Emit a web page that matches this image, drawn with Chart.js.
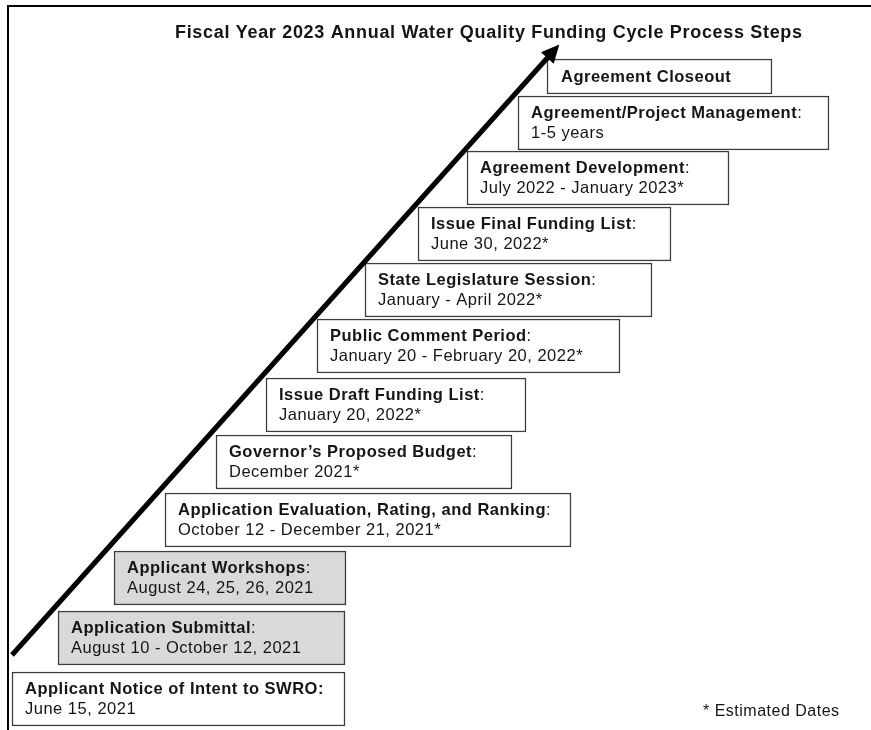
<!DOCTYPE html>
<html>
<head>
<meta charset="utf-8">
<title>FY2023 Funding Cycle Process Steps</title>
<script src="https://cdn.jsdelivr.net/npm/chart.js@4/dist/chart.umd.min.js"></script>
<style>
html, body { margin: 0; padding: 0; background: #fff; }
#wrap { position: relative; width: 871px; height: 730px; }
</style>
</head>
<body>
<div id="wrap"><canvas id="steps" width="871" height="730"></canvas></div>
<script>
var titleText = 'Fiscal Year 2023 Annual Water Quality Funding Cycle Process Steps';
var noteText = '* Estimated Dates';

// steps, first (bottom) to last (top)
var stepLabels = [
	'Applicant Notice of Intent to SWRO:',
	'Application Submittal',
	'Applicant Workshops',
	'Application Evaluation, Rating, and Ranking',
	'Governor\u2019s Proposed Budget',
	'Issue Draft Funding List',
	'Public Comment Period',
	'State Legislature Session',
	'Issue Final Funding List',
	'Agreement Development',
	'Agreement/Project Management',
	'Agreement Closeout'
];
var stepDates = [
	'June 15, 2021',
	'August 10 - October 12, 2021',
	'August 24, 25, 26, 2021',
	'October 12 - December 21, 2021*',
	'December 2021*',
	'January 20, 2022*',
	'January 20 - February 20, 2022*',
	'January - April 2022*',
	'June 30, 2022*',
	'July 2022 - January 2023*',
	'1-5 years',
	''
];
var shadedSteps = [1, 2]; // steps already done (grey boxes)

// box extents (hidden axes, 871 x 730 units)
var boxFrom = [12, 58, 114, 165, 216, 266, 317, 365, 418, 467, 518, 547];
var boxTo   = [345, 345, 346, 571, 512, 526, 620, 652, 671, 729, 829, 772];
var rowY    = [699, 638, 578, 520, 462, 405, 346, 290, 234, 178, 123, 76.5];

// the rising arrow: tail and shaft end
var arrowX = [12, 550];
var arrowY = [655, 55];

var FONT = "'Liberation Sans', Arial, sans-serif";
var INK = '#151515';
var SIZE = 16.5;

var twoLine = [], oneLine = [];
stepLabels.forEach(function(label, i){
	var pt = {x: [boxFrom[i], boxTo[i]], y: rowY[i], step: i};
	if (stepDates[i]) twoLine.push(pt); else oneLine.push(pt);
});
function fills(list){
	return list.map(function(p){ return shadedSteps.indexOf(p.step) >= 0 ? '#d9d9d9' : '#ffffff'; });
}

// frame, title and footnote
var decor = {
	id: 'decor',
	beforeDraw: function(chart){
		var ctx = chart.ctx;
		ctx.save();
		ctx.fillStyle = '#000';
		ctx.fillRect(7, 5, 864, 2);
		ctx.fillRect(7, 5, 2, 725);
		ctx.restore();
	},
	afterDraw: function(chart){
		var ctx = chart.ctx;
		ctx.save();
		ctx.fillStyle = INK;
		ctx.textBaseline = 'alphabetic';
		ctx.font = 'bold 18px ' + FONT;
		// spread letters so the title spans like the original
		var w = ctx.measureText(titleText).width;
		var sp = (627 - w) / (titleText.length - 1);
		ctx.letterSpacing = sp.toFixed(2) + 'px';
		ctx.fillText(titleText, 175, 38);
		ctx.letterSpacing = '0.5px';
		ctx.font = '16px ' + FONT;
		ctx.fillText(noteText, 703, 716);
		ctx.restore();
	}
};

// texts inside the boxes and the arrow head
var boxText = {
	id: 'boxText',
	afterDatasetsDraw: function(chart){
		var ctx = chart.ctx;
		ctx.save();
		ctx.fillStyle = INK;
		ctx.letterSpacing = '0.5px';
		chart.data.datasets.forEach(function(ds, d){
			var meta = chart.getDatasetMeta(d);
			if (ds.type === 'line'){
				var pts = meta.data;
				var a = pts[pts.length - 2], b = pts[pts.length - 1];
				var dx = b.x - a.x, dy = b.y - a.y, len = Math.sqrt(dx*dx + dy*dy);
				var ux = dx/len, uy = dy/len;
				ctx.beginPath();
				ctx.moveTo(b.x + ux*14, b.y + uy*14);
				ctx.lineTo(b.x - uy*8.5 - ux*4, b.y + ux*8.5 - uy*4);
				ctx.lineTo(b.x + uy*8.5 - ux*4, b.y - ux*8.5 - uy*4);
				ctx.closePath();
				ctx.fillStyle = '#000';
				ctx.fill();
				ctx.fillStyle = INK;
				return;
			}
			meta.data.forEach(function(bar, j){
				var p = bar.getProps(['x', 'y', 'base'], true);
				var i = ds.data[j].step;
				var left = Math.min(p.x, p.base) + 13;
				var label = stepLabels[i];
				var date = stepDates[i];
				ctx.font = 'bold ' + SIZE + 'px ' + FONT;
				if (!date){
					ctx.fillText(label, left + 1, p.y + 5.5);
					return;
				}
				ctx.fillText(label, left, p.y - 5);
				if (label.slice(-1) !== ':'){
					var lw = ctx.measureText(label).width;
					ctx.font = SIZE + 'px ' + FONT;
					ctx.fillText(':', left + lw, p.y - 5);
				}
				ctx.font = SIZE + 'px ' + FONT;
				ctx.fillText(date, left, p.y + 15);
			});
		});
		ctx.restore();
	}
};

new Chart(document.getElementById('steps'), {
	type: 'bar',
	data: {
		datasets: [
			{
				label: 'arrow',
				type: 'line',
				data: arrowX.map(function(x, i){ return {x: x, y: arrowY[i]}; }),
				borderColor: '#000',
				borderWidth: 5,
				pointRadius: 0,
				fill: false,
				order: 0
			},
			{
				label: 'steps',
				data: twoLine,
				backgroundColor: fills(twoLine),
				borderColor: '#3c3c3c',
				borderWidth: 1.5,
				borderSkipped: false,
				barThickness: 54,
				grouped: false,
				order: 1
			},
			{
				label: 'closeout',
				data: oneLine,
				backgroundColor: fills(oneLine),
				borderColor: '#3c3c3c',
				borderWidth: 1.5,
				borderSkipped: false,
				barThickness: 35,
				grouped: false,
				order: 1
			}
		]
	},
	options: {
		indexAxis: 'y',
		responsive: false,
		devicePixelRatio: 1,
		animation: false,
		events: [],
		layout: {padding: 0},
		plugins: {
			legend: {display: false},
			title: {display: false},
			tooltip: {enabled: false}
		},
		scales: {
			x: {type: 'linear', min: 0, max: 871, offset: false, display: false},
			y: {type: 'linear', min: 0, max: 730, reverse: true, offset: false, display: false}
		}
	},
	plugins: [decor, boxText]
});
</script>
</body>
</html>
